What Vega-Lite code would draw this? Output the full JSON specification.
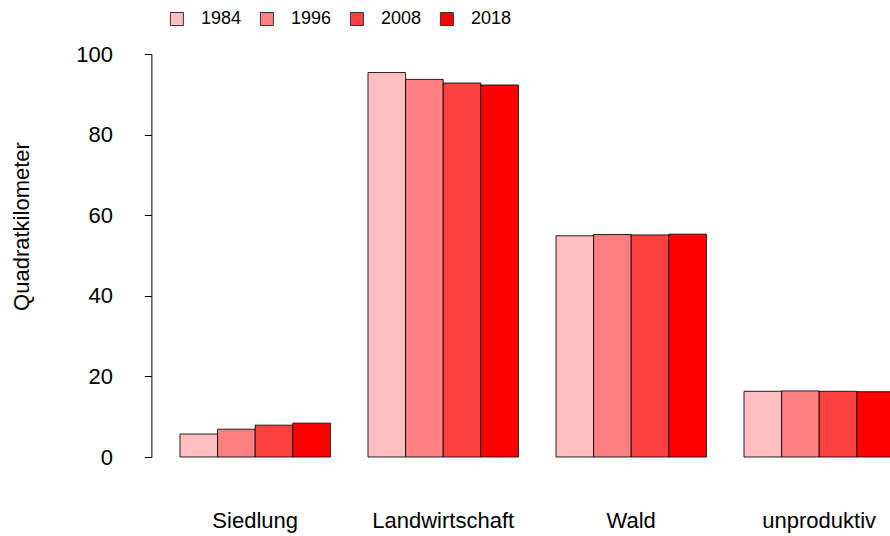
{
  "$schema": "https://vega.github.io/schema/vega-lite/v6.json",
  "autosize": {"type": "none"},
  "width": 738.6,
  "height": 403,
  "padding": {"left": 151.4, "top": 54, "right": 0, "bottom": 79},
  "background": "white",
  "config": {
    "view": {"stroke": null},
    "font": "Liberation Sans"
  },
  "data": {
    "values": [
      {"Kategorie": "Siedlung", "Jahr": "1984", "Wert": 5.7},
      {"Kategorie": "Siedlung", "Jahr": "1996", "Wert": 6.9},
      {"Kategorie": "Siedlung", "Jahr": "2008", "Wert": 7.9},
      {"Kategorie": "Siedlung", "Jahr": "2018", "Wert": 8.4},
      {"Kategorie": "Landwirtschaft", "Jahr": "1984", "Wert": 95.4},
      {"Kategorie": "Landwirtschaft", "Jahr": "1996", "Wert": 93.7},
      {"Kategorie": "Landwirtschaft", "Jahr": "2008", "Wert": 92.8},
      {"Kategorie": "Landwirtschaft", "Jahr": "2018", "Wert": 92.3},
      {"Kategorie": "Wald", "Jahr": "1984", "Wert": 54.9},
      {"Kategorie": "Wald", "Jahr": "1996", "Wert": 55.2},
      {"Kategorie": "Wald", "Jahr": "2008", "Wert": 55.1},
      {"Kategorie": "Wald", "Jahr": "2018", "Wert": 55.3},
      {"Kategorie": "unproduktiv", "Jahr": "1984", "Wert": 16.3},
      {"Kategorie": "unproduktiv", "Jahr": "1996", "Wert": 16.4},
      {"Kategorie": "unproduktiv", "Jahr": "2008", "Wert": 16.3},
      {"Kategorie": "unproduktiv", "Jahr": "2018", "Wert": 16.2}
    ]
  },
  "mark": {"type": "bar", "stroke": "#000000", "strokeWidth": 1, "strokeOpacity": 0.85},
  "encoding": {
    "x": {
      "field": "Kategorie",
      "type": "nominal",
      "sort": ["Siedlung", "Landwirtschaft", "Wald", "unproduktiv"],
      "scale": {"range": [0, 771.6], "paddingInner": 0.2, "paddingOuter": 0.152},
      "axis": {
        "title": null,
        "domain": false,
        "ticks": false,
        "labelAngle": 0,
        "labelFontSize": 22,
        "labelColor": "#000000",
        "labelBaseline": "alphabetic",
        "labelPadding": 70
      }
    },
    "xOffset": {
      "field": "Jahr",
      "type": "nominal",
      "sort": ["1984", "1996", "2008", "2018"],
      "scale": {"paddingInner": 0, "paddingOuter": 0}
    },
    "y": {
      "field": "Wert",
      "type": "quantitative",
      "scale": {"domain": [0, 100], "nice": false, "zero": true},
      "axis": {
        "title": "Quadratkilometer",
        "values": [0, 20, 40, 60, 80, 100],
        "grid": false,
        "domainColor": "#000000",
        "tickColor": "#000000",
        "tickSize": 7,
        "labelFontSize": 22,
        "labelColor": "#000000",
        "labelPadding": 32,
        "titleFontSize": 22,
        "titleFontWeight": "normal",
        "titleColor": "#000000",
        "titleX": -123,
        "titleY": 172,
        "titleAngle": 270,
        "titleAlign": "center",
        "titleBaseline": "alphabetic"
      }
    },
    "fill": {
      "field": "Jahr",
      "type": "nominal",
      "sort": ["1984", "1996", "2008", "2018"],
      "scale": {"domain": ["1984", "1996", "2008", "2018"], "range": ["#FFBFBF", "#FF8080", "#FF4040", "#FF0000"]},
      "legend": {
        "title": null,
        "orient": "none",
        "direction": "horizontal",
        "legendX": 16.5,
        "legendY": -44,
        "symbolType": "square",
        "symbolSize": 169,
        "symbolStrokeColor": "#333333",
        "symbolStrokeWidth": 1,
        "symbolOpacity": 1,
        "labelFontSize": 18,
        "labelColor": "#000000",
        "labelOffset": 15,
        "columnPadding": 16
      }
    }
  }
}
